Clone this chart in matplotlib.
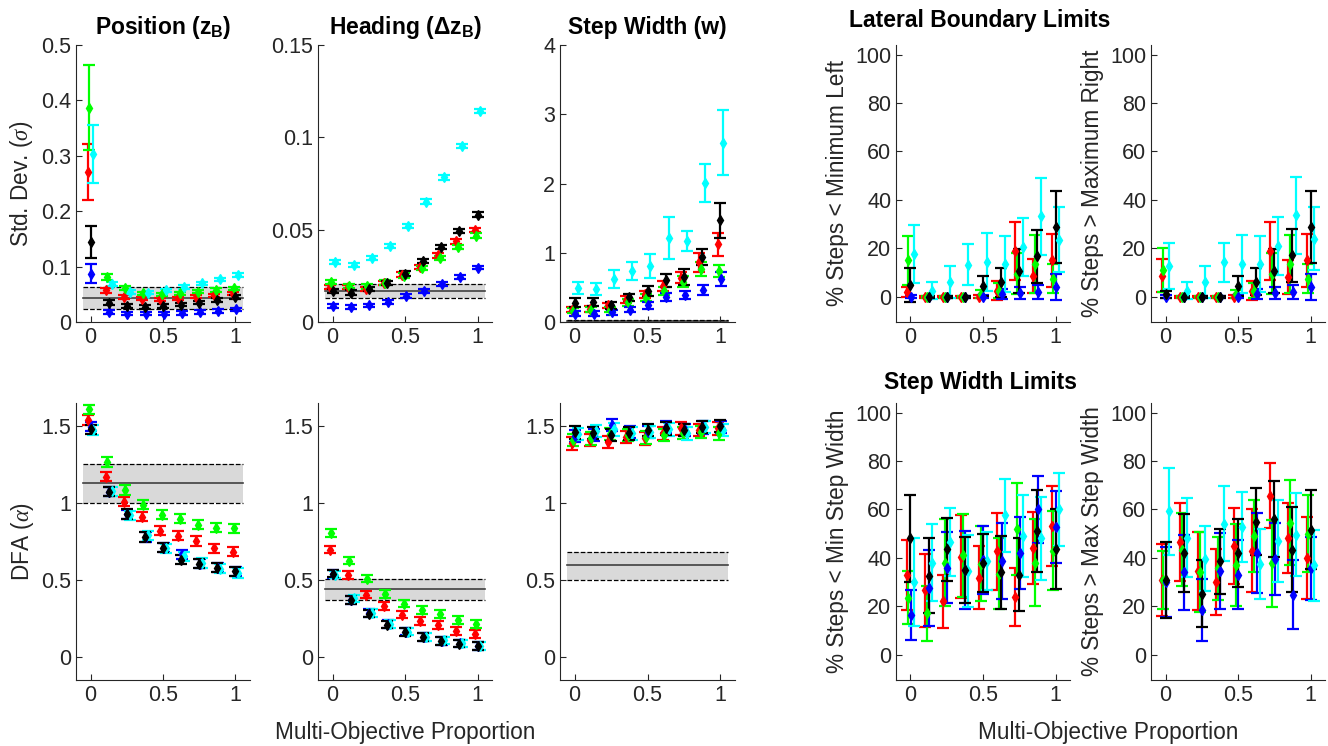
import numpy as np
import matplotlib
matplotlib.use('Agg')
import matplotlib.pyplot as plt

plt.rcParams['font.family'] = ['Liberation Sans', 'DejaVu Sans']
plt.rcParams['mathtext.fontset'] = 'custom'
plt.rcParams['mathtext.rm'] = 'Liberation Sans'
plt.rcParams['mathtext.bf'] = 'Liberation Sans:bold'
plt.rcParams['mathtext.it'] = 'Liberation Serif:italic'

# x values: multi-objective proportion
props = [0, 0.125, 0.25, 0.375, 0.5, 0.625, 0.75, 0.875, 1]
# series order: red, green, blue, cyan, black
series_colors = ['#ff0000', '#00ff00', '#0000ff', '#00ffff', '#000000']

# ---- Std. Dev. of position
pos_sd = [[0.271, 0.057, 0.045, 0.042, 0.041, 0.043, 0.046, 0.048, 0.051],
          [0.387, 0.081, 0.061, 0.052, 0.050, 0.052, 0.055, 0.058, 0.061],
          [0.087, 0.018, 0.015, 0.015, 0.015, 0.016, 0.018, 0.020, 0.023],
          [0.303, 0.069, 0.054, 0.053, 0.057, 0.063, 0.070, 0.077, 0.085],
          [0.145, 0.035, 0.029, 0.027, 0.029, 0.031, 0.035, 0.040, 0.045]]
pos_sd_err = [[0.051, 0.004, 0.004, 0.003, 0.003, 0.003, 0.003, 0.003, 0.003],
              [0.077, 0.005, 0.004, 0.003, 0.003, 0.003, 0.003, 0.003, 0.003],
              [0.017, 0.003, 0.003, 0.003, 0.003, 0.003, 0.003, 0.003, 0.003],
              [0.052, 0.004, 0.003, 0.003, 0.003, 0.003, 0.003, 0.003, 0.003],
              [0.029, 0.004, 0.003, 0.003, 0.003, 0.003, 0.003, 0.003, 0.003]]
pos_sd_band = [0.024, 0.044, 0.064]

# ---- Std. Dev. of heading
head_sd = [[0.0190, 0.0190, 0.0180, 0.0210, 0.0257, 0.0298, 0.0361, 0.0437, 0.0497],
           [0.0217, 0.0195, 0.0193, 0.0213, 0.0251, 0.0293, 0.0347, 0.0407, 0.0468],
           [0.0085, 0.0081, 0.0090, 0.0108, 0.0139, 0.0166, 0.0204, 0.0244, 0.0295],
           [0.0325, 0.0310, 0.0347, 0.0412, 0.0519, 0.0652, 0.0783, 0.0952, 0.1142],
           [0.0168, 0.0159, 0.0179, 0.0211, 0.0262, 0.0331, 0.0407, 0.0492, 0.0582]]
head_sd_err = [[0.0012] * 9, [0.0012] * 9, [0.0010] * 9, [0.0012] * 9, [0.0012] * 9]
head_sd_band = [0.0130, 0.0166, 0.0204]

# ---- Std. Dev. of step width
sw_sd = [[0.18, 0.19, 0.24, 0.32, 0.40, 0.52, 0.64, 0.86, 1.12],
         [0.165, 0.18, 0.18, 0.285, 0.35, 0.445, 0.58, 0.76, 0.74],
         [0.12, 0.12, 0.14, 0.18, 0.24, 0.36, 0.39, 0.46, 0.62],
         [0.49, 0.48, 0.62, 0.74, 0.81, 1.21, 1.17, 2.01, 2.59],
         [0.28, 0.285, 0.24, 0.36, 0.445, 0.60, 0.65, 0.94, 1.47]]
sw_sd_err = [[0.04, 0.04, 0.04, 0.05, 0.05, 0.07, 0.08, 0.14, 0.17],
             [0.04, 0.04, 0.04, 0.05, 0.05, 0.06, 0.08, 0.10, 0.09],
             [0.04, 0.04, 0.04, 0.04, 0.05, 0.06, 0.06, 0.07, 0.10],
             [0.09, 0.09, 0.13, 0.13, 0.17, 0.30, 0.14, 0.27, 0.47],
             [0.06, 0.06, 0.05, 0.05, 0.07, 0.10, 0.11, 0.12, 0.25]]
sw_sd_band = [0.005, 0.02, 0.035]

# ---- DFA of position
pos_dfa = [[1.54, 1.17, 1.008, 0.91, 0.82, 0.787, 0.754, 0.705, 0.683],
           [1.61, 1.266, 1.084, 0.99, 0.925, 0.897, 0.86, 0.839, 0.835],
           [1.496, 1.073, 0.926, 0.78, 0.709, 0.668, 0.607, 0.581, 0.553],
           [1.474, 1.077, 0.921, 0.79, 0.705, 0.655, 0.611, 0.574, 0.546],
           [1.478, 1.073, 0.928, 0.78, 0.711, 0.633, 0.607, 0.579, 0.557]]
pos_dfa_err = [[0.03] * 9, [0.03] * 9, [0.03] * 9, [0.03] * 9, [0.03] * 9]
pos_dfa_band = [1.0, 1.132, 1.253]

# ---- DFA of heading
head_dfa = [[0.698, 0.531, 0.405, 0.332, 0.275, 0.234, 0.206, 0.169, 0.147],
            [0.806, 0.626, 0.509, 0.41, 0.347, 0.303, 0.277, 0.238, 0.212],
            [0.540, 0.372, 0.284, 0.212, 0.165, 0.131, 0.105, 0.088, 0.071],
            [0.535, 0.380, 0.285, 0.212, 0.165, 0.130, 0.107, 0.088, 0.070],
            [0.542, 0.369, 0.282, 0.21, 0.163, 0.13, 0.104, 0.087, 0.072]]
head_dfa_err = [[0.025] * 9, [0.025] * 9, [0.025] * 9, [0.025] * 9, [0.025] * 9]
head_dfa_band = [0.369, 0.44, 0.509]

# ---- DFA of step width
sw_dfa = [[1.387, 1.409, 1.398, 1.431, 1.42, 1.452, 1.485, 1.474, 1.485],
          [1.409, 1.42, 1.448, 1.442, 1.426, 1.442, 1.457, 1.463, 1.452],
          [1.435, 1.442, 1.507, 1.463, 1.463, 1.496, 1.474, 1.491, 1.496],
          [1.448, 1.47, 1.478, 1.452, 1.463, 1.478, 1.452, 1.496, 1.474],
          [1.459, 1.457, 1.442, 1.452, 1.474, 1.485, 1.474, 1.496, 1.5]]
sw_dfa_err = [[0.04] * 9, [0.04] * 9, [0.04] * 9, [0.04] * 9, [0.04] * 9]
sw_dfa_band = [0.499, 0.596, 0.683]

# ---- % steps < minimum left
min_left = [[1.8, 0, 0, 0, 0, 2.5, 19, 8.5, 15],
            [15, 0, 0, 0, 1.1, 2.5, 9.5, 13.5, 7.3],
            [0, 0, 0, 0, 0, 1, 1.5, 2, 4],
            [17.7, 2.5, 6, 13.1, 14.2, 13.5, 20.5, 33.2, 23.6],
            [4.8, 0, 0, 0, 4.3, 6, 10.5, 16.7, 28.8]]
min_left_err = [[2, 0.4, 0.4, 0.4, 0.5, 4, 12, 7, 11],
                [10, 0.4, 0.4, 0.4, 1.5, 3, 8.5, 12, 6],
                [0.5, 0.4, 0.4, 0.4, 0.5, 2, 2.5, 3, 5.5],
                [12, 3.5, 6.5, 8.5, 12, 11.5, 12, 16, 13.5],
                [7, 0.4, 0.4, 0.4, 4.2, 6, 9, 11, 15]]

# ---- % steps > maximum right
max_right = [[8.7, 0, 0, 0, 0, 2.5, 19, 8, 15],
             [11, 0, 0, 0, 1.1, 2.5, 9.5, 13.5, 7.3],
             [0, 0, 0, 0, 0, 1, 1.5, 2, 4],
             [12.5, 2.5, 6, 14.2, 13.5, 13.5, 20.9, 33.6, 23.9],
             [1, 0, 0, 0, 4.3, 6.2, 10.5, 17, 28.8]]
max_right_err = [[7, 0.4, 0.4, 0.4, 0.5, 4, 12, 7, 11],
                 [9, 0.4, 0.4, 0.4, 1.5, 3, 8.5, 12, 6],
                 [0.5, 0.4, 0.4, 0.4, 0.5, 2, 2.5, 3, 5.5],
                 [9.5, 3.5, 6.5, 8, 12, 11.5, 12, 16, 13],
                 [1.5, 0.4, 0.4, 0.4, 4.2, 5.5, 9, 11, 15]]

# ---- % steps < min step width
min_sw = [[33, 26.6, 22, 40.5, 31.7, 42.7, 24, 44, 53],
          [23.5, 17, 38, 41, 37.5, 33.5, 52, 38, 43],
          [16.4, 27.7, 36, 35, 39.2, 38.7, 42, 60, 52.8],
          [30, 38, 46.5, 34.5, 38.5, 57.5, 49, 48, 60],
          [48, 32.6, 43.6, 35, 38, 34, 33, 51, 43.6]]
min_sw_err = [[14.5, 15, 11, 17, 13, 16, 12, 15, 16.5],
              [11, 11.5, 18, 17, 15.5, 14.5, 19, 18, 16.5],
              [10.5, 15.7, 14.7, 16, 14, 15.6, 15, 14, 15],
              [18, 16, 14, 15, 12, 15, 17, 17, 15],
              [18, 15.5, 13, 13.5, 12, 15, 15, 17, 16.5]]

# ---- % steps > max step width
max_sw = [[30.8, 46.6, 34.5, 30, 44.8, 43, 65.7, 48.3, 40],
          [31, 43.4, 34.3, 35.7, 37, 49, 37.8, 54.5, 50],
          [30, 34, 18.6, 34.5, 33, 42, 39.6, 24.8, 35.7],
          [59.2, 48.3, 39.7, 54, 52.7, 37.3, 47, 49.6, 37],
          [30.8, 42, 25.2, 38.5, 42, 55, 56, 43.4, 51.7]]
max_sw_err = [[15, 16, 16, 13.6, 15.7, 17.3, 13.4, 14.5, 17],
              [12, 15, 16.5, 13, 17, 15, 18, 17.5, 16],
              [14.5, 15.5, 12.8, 15.6, 14.2, 16.5, 15, 14.4, 13],
              [18, 16.3, 13.5, 15.5, 14.6, 14.5, 17, 17, 14.7],
              [15.7, 16, 13.8, 13.4, 14, 14, 15.7, 17.5, 16.5]]

left_offsets = [-0.02, -0.01, 0.005, 0.02, 0.0]
right_offsets = [-0.027, -0.014, 0.003, 0.025, 0.0]

W, H = 1328, 746
fig = plt.figure(figsize=(W / 100, H / 100), dpi=100)

axcol = '#262626'
tick_fs = 15.5
label_fs = 16.3
title_fs = 16.5


def make_ax(x0, x1, ytop, ybot):
    ax = fig.add_axes([x0 / W, 1 - ybot / H, (x1 - x0) / W, (ybot - ytop) / H])
    for s in ['top', 'right']:
        ax.spines[s].set_visible(False)
    for s in ['left', 'bottom']:
        ax.spines[s].set_color(axcol)
        ax.spines[s].set_linewidth(0.8)
    ax.tick_params(direction='in', length=4, colors=axcol, labelsize=tick_fs, width=0.8)
    ax.set_xlim(-0.1, 1.1)
    ax.set_xticks([0, 0.5, 1])
    ax.set_xticklabels(['0', '0.5', '1'])
    return ax


def draw(ax, means, errs, offsets, band=None):
    if band is not None:
        ax.fill_between([-0.05, 1.05], band[0], band[2], color='#d9d9d9', lw=0, zorder=0)
        ax.plot([-0.05, 1.05], [band[1], band[1]], color='#404040', lw=1.2, zorder=1)
        ax.plot([-0.05, 1.05], [band[0], band[0]], 'k--', lw=0.9, zorder=1)
        ax.plot([-0.05, 1.05], [band[2], band[2]], 'k--', lw=0.9, zorder=1)
    for m, e, c, off in zip(means, errs, series_colors, offsets):
        ax.errorbar(np.array(props) + off, m, yerr=e, fmt='d', color=c, ms=5,
                    elinewidth=1.6, capsize=4.5, capthick=1.6, zorder=3)


top_t, top_b = 45, 322
bot_t, bot_b = 403, 680
cols = [(76, 250), (318, 492), (560, 735), (896, 1070), (1151, 1325)]

# top row
ax1 = make_ax(*cols[0], top_t, top_b)
draw(ax1, pos_sd, pos_sd_err, left_offsets, pos_sd_band)
ax1.set_ylim(0, 0.5)
ax1.set_yticks([0, 0.1, 0.2, 0.3, 0.4, 0.5])
ax1.set_yticklabels(['0', '0.1', '0.2', '0.3', '0.4', '0.5'])
ax1.set_ylabel(r'Std. Dev. ($\sigma$)', fontsize=label_fs, color=axcol)
ax1.set_title(r'Position (z$_\mathbf{B}$)', fontsize=title_fs, fontweight='bold', pad=8)

ax2 = make_ax(*cols[1], top_t, top_b)
draw(ax2, head_sd, head_sd_err, left_offsets, head_sd_band)
ax2.set_ylim(0, 0.15)
ax2.set_yticks([0, 0.05, 0.1, 0.15])
ax2.set_yticklabels(['0', '0.05', '0.1', '0.15'])
ax2.set_title(r'Heading ($\mathbf{\Delta}$z$_\mathbf{B}$)', fontsize=title_fs, fontweight='bold', pad=8)

ax3 = make_ax(*cols[2], top_t, top_b)
draw(ax3, sw_sd, sw_sd_err, left_offsets, sw_sd_band)
ax3.set_ylim(0, 4)
ax3.set_yticks([0, 1, 2, 3, 4])
ax3.set_title('Step Width (w)', fontsize=title_fs, fontweight='bold', pad=8)

ax4 = make_ax(*cols[3], top_t, top_b)
draw(ax4, min_left, min_left_err, right_offsets)
ax4.set_ylim(-10.5, 104)
ax4.set_yticks([0, 20, 40, 60, 80, 100])
ax4.set_ylabel('% Steps < Minimum Left', fontsize=label_fs, color=axcol)

ax5 = make_ax(*cols[4], top_t, top_b)
draw(ax5, max_right, max_right_err, right_offsets)
ax5.set_ylim(-10.5, 104)
ax5.set_yticks([0, 20, 40, 60, 80, 100])
ax5.set_ylabel('% Steps > Maximum Right', fontsize=label_fs, color=axcol)

# bottom row
ax6 = make_ax(*cols[0], bot_t, bot_b)
draw(ax6, pos_dfa, pos_dfa_err, left_offsets, pos_dfa_band)
ax6.set_ylim(-0.15, 1.65)
ax6.set_yticks([0, 0.5, 1, 1.5])
ax6.set_yticklabels(['0', '0.5', '1', '1.5'])
ax6.set_ylabel(r'DFA ($\alpha$)', fontsize=label_fs, color=axcol)

ax7 = make_ax(*cols[1], bot_t, bot_b)
draw(ax7, head_dfa, head_dfa_err, left_offsets, head_dfa_band)
ax7.set_ylim(-0.15, 1.65)
ax7.set_yticks([0, 0.5, 1, 1.5])
ax7.set_yticklabels(['0', '0.5', '1', '1.5'])

ax8 = make_ax(*cols[2], bot_t, bot_b)
draw(ax8, sw_dfa, sw_dfa_err, left_offsets, sw_dfa_band)
ax8.set_ylim(-0.15, 1.65)
ax8.set_yticks([0, 0.5, 1, 1.5])
ax8.set_yticklabels(['0', '0.5', '1', '1.5'])

ax9 = make_ax(*cols[3], bot_t, bot_b)
draw(ax9, min_sw, min_sw_err, right_offsets)
ax9.set_ylim(-10.5, 104)
ax9.set_yticks([0, 20, 40, 60, 80, 100])
ax9.set_ylabel('% Steps < Min Step Width', fontsize=label_fs, color=axcol)

ax10 = make_ax(*cols[4], bot_t, bot_b)
draw(ax10, max_sw, max_sw_err, right_offsets)
ax10.set_ylim(-10.5, 104)
ax10.set_yticks([0, 20, 40, 60, 80, 100])
ax10.set_ylabel('% Steps > Max Step Width', fontsize=label_fs, color=axcol)

# group titles and shared x labels
fig.text(980 / W, 1 - 20 / H, 'Lateral Boundary Limits', ha='center', va='center',
         fontsize=title_fs, fontweight='bold')
fig.text(980 / W, 1 - 383 / H, 'Step Width Limits', ha='center', va='center',
         fontsize=title_fs, fontweight='bold')
fig.text(405 / W, 1 - 732 / H, 'Multi-Objective Proportion', ha='center', va='center',
         fontsize=label_fs, color=axcol)
fig.text(1108 / W, 1 - 732 / H, 'Multi-Objective Proportion', ha='center', va='center',
         fontsize=label_fs, color=axcol)

fig.savefig('out.png', dpi=100)
